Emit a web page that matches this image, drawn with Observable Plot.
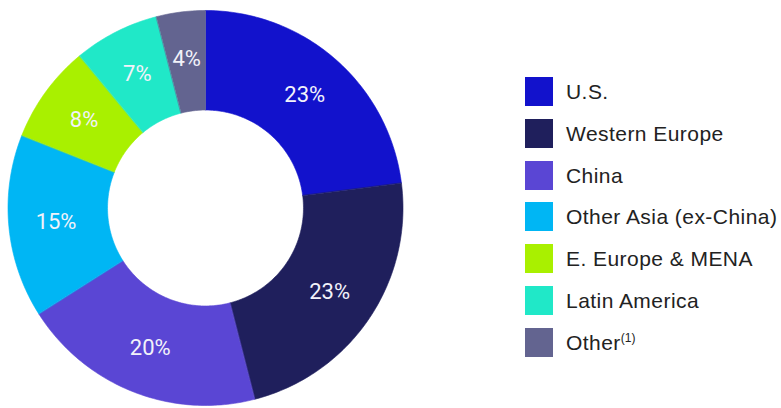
<!DOCTYPE html>
<html>
<head>
<meta charset="utf-8">
<script src="https://cdn.jsdelivr.net/npm/d3@7"></script>
<script src="https://cdn.jsdelivr.net/npm/@observablehq/plot@0.6"></script>
<style>
  html, body { margin: 0; padding: 0; background: #fff; }
  #wrap { position: relative; width: 781px; height: 408px; overflow: hidden; }
  #chart { position: absolute; left: 0; top: 0; }
  #legend { position: absolute; left: 525px; top: 77px; font-family: "Liberation Sans", Arial, sans-serif; font-size: 21px; color: #222; letter-spacing: 0.45px; }
  .row { position: relative; height: 41.8px; }
  .sw { position: absolute; left: 0; top: 0; width: 28px; height: 29px; }
  .lb { position: absolute; left: 41px; top: 2px; line-height: 26px; white-space: nowrap; }
  .lb sup { font-size: 12px; vertical-align: 0; position: relative; top: -8px; letter-spacing: 0; }
</style>
</head>
<body>
<div id="wrap">
  <div id="chart"></div>
  <div id="legend"></div>
</div>
<script>
const categories = ["U.S.", "Western Europe", "China", "Other Asia (ex-China)", "E. Europe & MENA", "Latin America", "Other"];
const legendLabels = ["U.S.", "Western Europe", "China", "Other Asia (ex-China)", "E. Europe & MENA", "Latin America", "Other<sup>(1)</sup>"];
const values = [23, 23, 20, 15, 8, 7, 4];
const labels = ["23%", "23%", "20%", "15%", "8%", "7%", "4%"];
const colors = ["#1212cc", "#1f1f5c", "#5a46d4", "#00b6f4", "#a9f000", "#20e8c8", "#636490"];

const innerRatio = 0.496;
const labelRatio = 0.76;
const total = d3.sum(values);

// Build ring polygons in unit data space from cumulative values
const rings = [];
const labelPts = [];
let cum = 0;
values.forEach((v, i) => {
  const a0 = cum / total * 2 * Math.PI;
  const a1 = (cum + v) / total * 2 * Math.PI;
  const n = Math.max(4, Math.ceil((a1 - a0) / (Math.PI / 180)));
  for (let k = 0; k <= n; k++) {
    const a = a0 + (a1 - a0) * k / n;
    rings.push({name: categories[i], x: Math.sin(a), y: Math.cos(a)});
  }
  for (let k = n; k >= 0; k--) {
    const a = a0 + (a1 - a0) * k / n;
    rings.push({name: categories[i], x: innerRatio * Math.sin(a), y: innerRatio * Math.cos(a)});
  }
  const am = (a0 + a1) / 2;
  labelPts.push({name: categories[i], label: labels[i], x: labelRatio * Math.sin(am), y: labelRatio * Math.cos(am)});
  cum += v;
});

const cx = 205, cy = 207.5, R = 197.5;
const chart = Plot.plot({
  width: 781,
  height: 408,
  margin: 0,
  x: {domain: [-1, 1], range: [cx - R, cx + R], axis: null},
  y: {domain: [-1, 1], range: [cy + R, cy - R], axis: null},
  color: {domain: categories, range: colors},
  marks: [
    Plot.line(rings, {x: "x", y: "y", z: "name", fill: "name", stroke: "name", strokeWidth: 0.6, curve: "linear-closed"}),
    Plot.text(labelPts, {x: "x", y: "y", text: "label", fill: "#f2f2fa", fontSize: 22, fontFamily: "Roboto, sans-serif"})
  ]
});
document.getElementById("chart").appendChild(chart);

const legend = document.getElementById("legend");
categories.forEach((c, i) => {
  const row = document.createElement("div");
  row.className = "row";
  row.innerHTML = `<div class="sw" style="background:${colors[i]}"></div><div class="lb">${legendLabels[i]}</div>`;
  legend.appendChild(row);
});
</script>
</body>
</html>
